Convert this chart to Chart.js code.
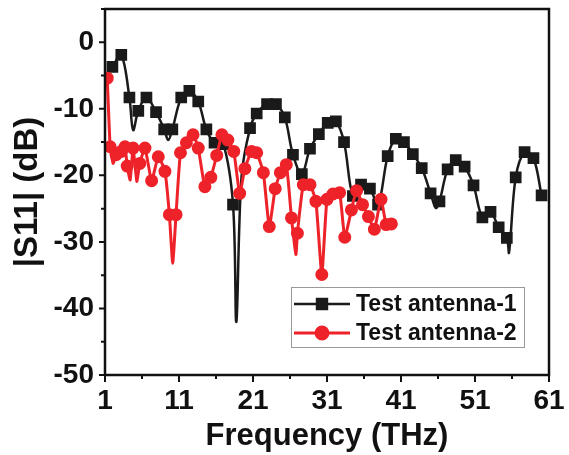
<!DOCTYPE html>
<html>
<head>
<meta charset="utf-8">
<script src="https://cdn.jsdelivr.net/npm/chart.js@4.4.0/dist/chart.umd.min.js"></script>
<style>
  body { margin: 0; background: #fff; }
  canvas { display: block; }
</style>
</head>
<body>
<canvas id="s11Chart" width="569" height="455"></canvas>
<script>
// marker points (THz, dB)
const blackFreq = [2.0, 3.2, 4.3, 5.5, 6.6, 7.9, 9.0, 10.1, 11.3, 12.4, 13.6, 14.7, 15.8, 17.0, 18.3,
    20.6, 21.5, 22.9, 24.1, 25.3, 26.4, 27.6, 28.7, 29.9, 31.1, 32.2, 33.3, 34.5, 35.6, 36.8, 37.9,
    39.2, 40.3, 41.4, 42.6, 43.8, 45.0, 46.2, 47.3, 48.4, 49.6, 50.8, 52.0, 53.1, 54.2, 55.3, 56.5,
    57.7, 58.9, 60.0];
const blackS11 = [-3.7, -1.9, -8.3, -10.3, -8.3, -10.5, -13.1, -13.1, -8.3, -7.3, -8.9, -13.1, -15.1, -15.3, -24.4,
    -12.9, -10.7, -9.3, -9.3, -11.3, -16.9, -19.8, -16.0, -13.8, -12.1, -11.9, -15.0, -23.1, -21.4, -22.0, -24.4,
    -17.1, -14.5, -15.0, -16.8, -18.9, -22.7, -23.9, -19.1, -17.7, -18.7, -21.5, -26.3, -25.5, -27.8, -29.4, -20.3,
    -16.5, -17.4, -23.0];
// curve extremes between markers (no marker drawn)
const blackDipFreq = [4.8, 9.55, 18.75, 19.45, 45.7, 55.6];
const blackDipS11 = [-13.2, -14.7, -42.0, -20.2, -24.9, -31.6];

const redFreq = [1.3, 1.7, 2.5, 3.2, 3.7, 4.0, 4.8, 5.7, 6.4, 7.3, 8.2, 9.1, 9.7, 10.6, 11.2, 12.0, 12.9,
    13.6, 14.5, 15.3, 16.1, 16.8, 17.6, 18.4, 19.2, 19.9, 20.8, 21.5, 22.4, 23.2, 24.0, 24.7, 25.5, 26.2,
    27.0, 27.8, 28.7, 29.5, 30.3, 31.0, 31.8, 32.7, 33.4, 34.3, 35.0, 35.8, 36.6, 37.4, 38.3, 39.0, 39.7];
const redS11 = [-5.4, -15.7, -16.9, -16.4, -15.7, -18.6, -15.9, -18.2, -15.9, -20.8, -17.2, -19.4, -25.9,
    -25.9, -16.6, -15.1, -13.9, -15.9, -21.7, -20.3, -17.0, -13.9, -14.7, -16.4, -22.7, -19.0, -16.4, -16.6,
    -19.6, -27.7, -22.0, -19.6, -18.4, -26.4, -28.7, -21.4, -21.4, -23.9, -34.9, -23.6, -22.8, -22.6, -29.3,
    -25.2, -22.3, -24.4, -26.2, -28.1, -23.6, -27.4, -27.3];
const redDipFreq = [2.1, 4.4, 5.3, 10.15, 26.8];
const redDipS11 = [-18.2, -20.7, -20.9, -33.2, -31.9];

const seriesNames = ['Test antenna-1', 'Test antenna-2'];
const xTicks = { min: 1, max: 61, step: 5 };
const yTicks = { min: -50, max: 5, step: 5 };

const BLACK = '#1a1a1a';
const RED = '#ee2229';

Chart.defaults.font.family = "'Liberation Sans', Arial, sans-serif";
Chart.defaults.font.weight = 'bold';
Chart.defaults.color = '#111';

function buildPoints(freq, vals, dipFreq, dipVals) {
    let pts = freq.map((f, i) => ({ x: f, y: vals[i] }));
    dipFreq.forEach((f, i) => pts.push({ x: f, y: dipVals[i], dip: true }));
    pts.sort((a, b) => a.x - b.x);
    return pts;
}

const markerRadius = (r) => (ctx) => (ctx.raw && ctx.raw.dip) ? 0 : r;

// frame, outward ticks (major/minor) and the boxed legend
const framePlugin = {
    id: 'frame',
    afterDraw(chart) {
        const { ctx, chartArea: a, scales } = chart;
        ctx.save();
        ctx.strokeStyle = '#111';
        ctx.lineWidth = 2.5;
        ctx.strokeRect(a.left, a.top, a.right - a.left, a.bottom - a.top);

        ctx.lineWidth = 2;
        ctx.beginPath();
        scales.x.ticks.forEach(t => {
            const px = scales.x.getPixelForValue(t.value);
            const len = Math.round(t.value - 1) % 10 === 0 ? 7 : 4;
            ctx.moveTo(px, a.bottom);
            ctx.lineTo(px, a.bottom + len);
        });
        scales.y.ticks.forEach(t => {
            const py = scales.y.getPixelForValue(t.value);
            const len = Math.round(t.value) % 10 === 0 ? 6 : 4;
            ctx.moveTo(a.left, py);
            ctx.lineTo(a.left - len, py);
        });
        ctx.stroke();

        // legend
        const box = { left: 291, top: 287, right: 524, bottom: 347 };
        ctx.lineWidth = 1;
        ctx.strokeStyle = '#9a9a9a';
        ctx.strokeRect(box.left + 0.5, box.top + 0.5, box.right - box.left, box.bottom - box.top);
        const rows = [304, 333];
        const order = [1, 0]; // dataset index for each row
        rows.forEach((ry, i) => {
            const ds = chart.data.datasets[order[i]];
            ctx.strokeStyle = ds.borderColor;
            ctx.lineWidth = ds.borderWidth;
            ctx.beginPath();
            ctx.moveTo(294, ry);
            ctx.lineTo(350, ry);
            ctx.stroke();
            Chart.helpers.drawPoint(ctx, {
                pointStyle: ds.pointStyle, radius: ds.legendRadius, borderWidth: 1, rotation: 0
            }, 322, ry);
            ctx.fillStyle = ds.pointBackgroundColor;
            ctx.fill();
            ctx.fillStyle = '#111';
            ctx.font = "bold 23px 'Liberation Sans', Arial, sans-serif";
            ctx.textBaseline = 'middle';
            ctx.textAlign = 'left';
            ctx.fillText(ds.label, 356, ry + 1);
        });
        ctx.restore();
    }
};

const data = {
    datasets: [
        {
            label: seriesNames[1],
            data: buildPoints(redFreq, redS11, redDipFreq, redDipS11),
            borderColor: RED,
            backgroundColor: RED,
            pointBackgroundColor: RED,
            pointBorderColor: RED,
            borderWidth: 3,
            pointStyle: 'circle',
            pointRadius: markerRadius(5),
            legendRadius: 6,
            tension: 0.15
        },
        {
            label: seriesNames[0],
            data: buildPoints(blackFreq, blackS11, blackDipFreq, blackDipS11),
            borderColor: BLACK,
            backgroundColor: BLACK,
            pointBackgroundColor: BLACK,
            pointBorderColor: BLACK,
            borderWidth: 2.5,
            pointStyle: 'rect',
            pointRadius: markerRadius(6.5),
            legendRadius: 7,
            tension: 0.35
        }
    ]
};

const config = {
    type: 'line',
    data: data,
    plugins: [framePlugin],
    options: {
        responsive: false,
        animation: false,
        layout: { padding: { left: 0, top: 8, right: 20, bottom: 0 } },
        plugins: {
            legend: { display: false },
            tooltip: { enabled: false }
        },
        scales: {
            x: {
                type: 'linear',
                min: xTicks.min,
                max: xTicks.max,
                grid: { display: false, tickLength: 7 },
                border: { display: false },
                ticks: {
                    stepSize: xTicks.step,
                    padding: 2,
                    maxRotation: 0,
                    autoSkip: false,
                    font: { size: 28, weight: 'bold' },
                    callback: (v) => Math.round(v - 1) % 10 === 0 ? v : ''
                },
                title: {
                    display: true,
                    text: 'Frequency (THz)',
                    font: { size: 31, weight: 'bold' },
                    padding: { top: 0, bottom: 0 }
                },
                afterFit: (scale) => { scale.height = 80; }
            },
            y: {
                min: yTicks.min,
                max: yTicks.max,
                grid: { display: false, tickLength: 6 },
                border: { display: false },
                ticks: {
                    stepSize: yTicks.step,
                    padding: 5,
                    autoSkip: false,
                    font: { size: 28, weight: 'bold' },
                    callback: (v) => Math.round(v) % 10 === 0 ? v : ''
                },
                title: {
                    display: true,
                    text: '|S11| (dB)',
                    font: { size: 33, weight: 'bold' },
                    padding: { top: 8, bottom: 0 }
                },
                afterFit: (scale) => {
                    scale.width = 105;
                    scale.paddingTop = 0;
                    scale.paddingBottom = 0;
                }
            }
        }
    }
};

const chart = new Chart(document.getElementById('s11Chart'), config);
</script>
</body>
</html>
